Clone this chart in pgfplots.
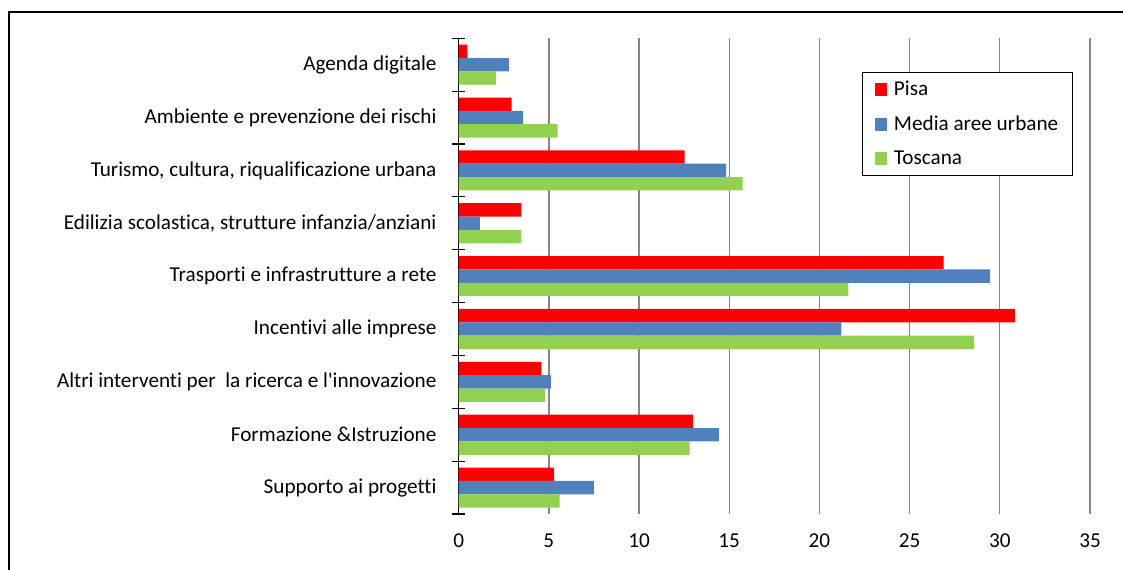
\documentclass[border=0pt]{standalone}
\usepackage{fontspec}
\setmainfont{Carlito}[Ligatures={TeXOff,CommonOff}]
\usepackage{pgfplots}
\pgfplotsset{compat=1.18}
\definecolor{cpisa}{RGB}{255,0,0}
\definecolor{cmedia}{RGB}{79,129,189}
\definecolor{ctosc}{RGB}{146,208,80}
\definecolor{cgrid}{RGB}{134,134,134}
\begin{document}
\begin{tikzpicture}
\useasboundingbox (0,0) rectangle (842.25pt,426.75pt);
\draw[line width=1.5pt] (6.75pt,-2pt) -- (6.75pt,418.1pt) -- (845pt,418.1pt);
\begin{axis}[
  at={(344.0pt,41.25pt)}, anchor=south west,
  scale only axis, width=473.5pt, height=356.8pt,
  font=\fontsize{15.9}{19}\selectfont,
  xmin=0, xmax=35, ymin=-0.5, ymax=8.5,
  xbar, bar width=0.2527,
  axis lines*=left,
  x axis line style={draw=none},
  y axis line style={black, line width=0.9pt},
  xtick={0,5,...,35},
  xtick style={draw=none},
  xmajorgrids, grid style={cgrid, line width=1pt},
  /pgf/number format/assume math mode=true,
  xticklabel style={yshift=-9pt},
  ytick={0,...,8},
  yticklabels={Supporto ai progetti, Formazione \&Istruzione, Altri interventi per\ \ la ricerca e l'innovazione, Incentivi alle imprese, Trasporti e infrastrutture a rete, {Edilizia scolastica, strutture infanzia/anziani}, {Turismo, cultura, riqualificazione urbana}, Ambiente e prevenzione dei rischi, Agenda digitale},
  yticklabel style={xshift=-11pt},
  every major y tick/.append style={draw=none},
  minor ytick={-0.5,0.5,1.5,2.5,3.5,4.5,5.5,6.5,7.5,8.5},
  every minor y tick/.append style={black, line width=0.9pt},
  minor tick length=9.75pt,
  tick align=center,
  legend style={at={(0.639,0.929)}, anchor=north west, draw=black, line width=0.8pt,
    font=\fontsize{15.9}{19}\selectfont, inner xsep=9pt, inner ysep=4.5pt,
    row sep=9.6pt, cells={anchor=west}},
  legend image code/.code={\fill[#1] (0pt,-4.75pt) rectangle (9.5pt,4.75pt);},
  /tikz/every odd column/.append style={column sep=3pt},
]
\addplot[fill=cpisa, draw=none, bar shift=0.2527] coordinates {
(5.29,0) (13.0,1) (4.59,2) (30.83,3) (26.89,4) (3.48,5) (12.52,6) (2.93,7) (0.48,8)};
\addplot[fill=cmedia, draw=none, bar shift=0] coordinates {
(7.5,0) (14.42,1) (5.11,2) (21.21,3) (29.46,4) (1.18,5) (14.83,6) (3.57,7) (2.78,8)};
\addplot[fill=ctosc, draw=none, bar shift=-0.2527] coordinates {
(5.59,0) (12.81,1) (4.79,2) (28.57,3) (21.61,4) (3.48,5) (15.74,6) (5.48,7) (2.07,8)};
\legend{Pisa, Media aree urbane, Toscana}
\end{axis}
\end{tikzpicture}
\end{document}
